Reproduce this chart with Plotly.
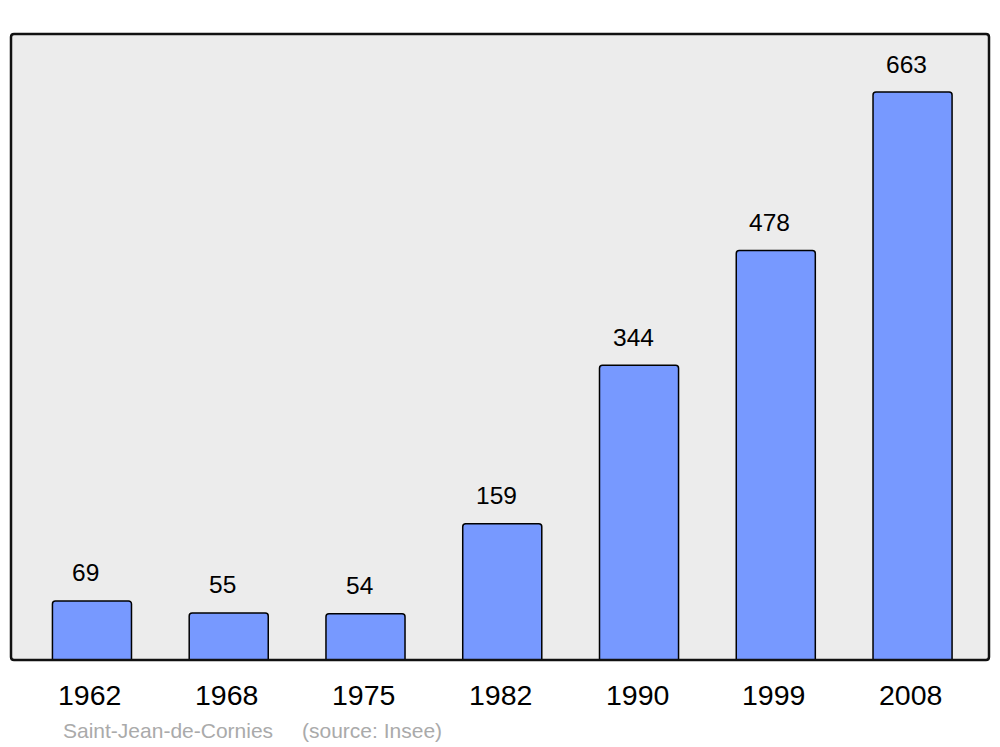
import plotly.graph_objects as go

years = ["1962", "1968", "1975", "1982", "1990", "1999", "2008"]
population = [69, 55, 54, 159, 344, 478, 663]
footer_name = "Saint-Jean-de-Cornies"
footer_source = "(source: Insee)"

W, H = 1000, 747
L, R, T, B = 11, 11, 34, 87
pw, ph = W - L - R, H - T - B

xs = list(range(len(years)))
FONT = "Liberation Sans, Arial, sans-serif"

fig = go.Figure()
fig.add_trace(go.Bar(
    x=xs, y=population, width=0.578,
    marker=dict(color="#7799ff", line=dict(color="#000000", width=1.5), cornerradius=3),
    hoverinfo="skip",
))

ann = []
for i, v in enumerate(population):
    ann.append(dict(x=i, y=v, xref="x", yref="y", text=str(v), showarrow=False,
                    xshift=-6, yshift=28, yanchor="middle", xanchor="center",
                    font=dict(size=24.5, color="#000000", family=FONT)))
for i, yr in enumerate(years):
    ann.append(dict(x=i, y=0, xref="x", yref="paper", text=yr, showarrow=False,
                    xshift=-2, yshift=-35, yanchor="middle", xanchor="center",
                    font=dict(size=28.5, color="#000000", family=FONT)))
fy = (660 - 730) / ph
ann.append(dict(x=(61 - L) / pw, y=fy, xref="paper", yref="paper", text=footer_name,
                showarrow=False, xanchor="left", yanchor="middle",
                font=dict(size=21, color="#aaaaaa", family=FONT)))
ann.append(dict(x=(300 - L) / pw, y=fy, xref="paper", yref="paper", text=footer_source,
                showarrow=False, xanchor="left", yanchor="middle",
                font=dict(size=21, color="#aaaaaa", family=FONT)))

# rounded frame around plot area (paper coords)
rx, ry = 3 / pw, 3 / ph
path = (f"M {rx},0 L {1-rx},0 Q 1,0 1,{ry} L 1,{1-ry} Q 1,1 {1-rx},1 "
        f"L {rx},1 Q 0,1 0,{1-ry} L 0,{ry} Q 0,0 {rx},0 Z")

fig.update_layout(
    width=W, height=H, autosize=False,
    margin=dict(l=L, r=R, t=T, b=B, pad=0),
    paper_bgcolor="#ffffff", plot_bgcolor="#ececec",
    showlegend=False,
    xaxis=dict(range=[-0.592, 6.559], showticklabels=False, showgrid=False, zeroline=False, ticks=""),
    yaxis=dict(range=[0, 730.7], showticklabels=False, showgrid=False, zeroline=False, ticks=""),
    annotations=ann,
    shapes=[dict(type="path", path=path, xref="paper", yref="paper",
                 line=dict(color="#111111", width=2.5), fillcolor="rgba(0,0,0,0)", layer="above")],
)

fig.write_html("out.html", config={"displayModeBar": False},
               post_script="document.body.style.margin='0';document.body.style.overflow='hidden';")
